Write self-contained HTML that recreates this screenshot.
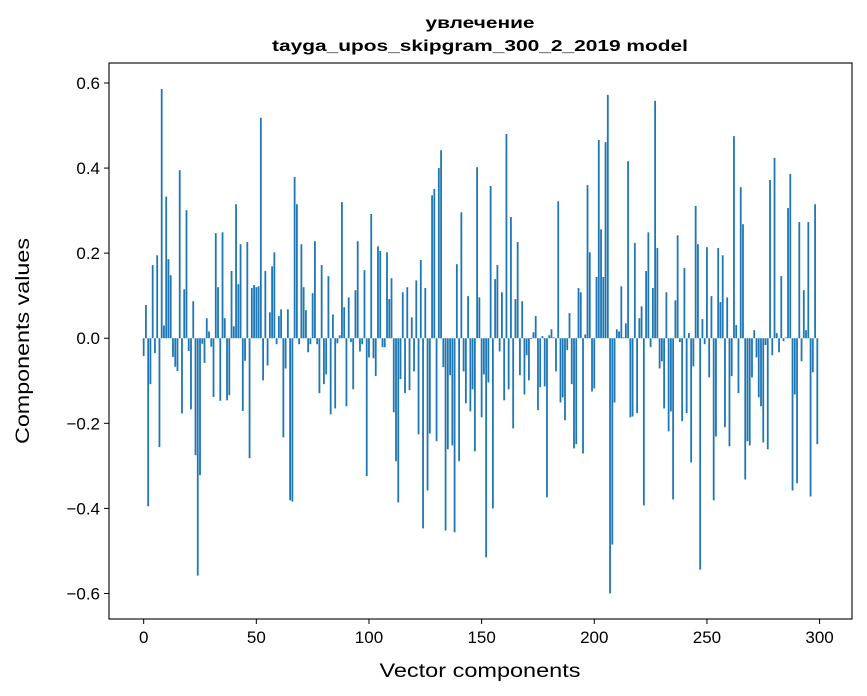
<!DOCTYPE html>
<html><head><meta charset="utf-8"><style>
body{margin:0;background:#fff;}
svg{display:block;font-family:"Liberation Sans","DejaVu Sans",sans-serif;}
</style></head><body>
<svg id="chart" width="867" height="696" viewBox="0 0 867 696" xmlns="http://www.w3.org/2000/svg">
<rect width="867" height="696" fill="#fff"/>
<text x="480" y="28" text-anchor="middle" font-size="16" font-weight="bold" textLength="109" lengthAdjust="spacingAndGlyphs">увлечение</text>
<text x="480" y="51" text-anchor="middle" font-size="16" font-weight="bold" textLength="416" lengthAdjust="spacingAndGlyphs">tayga_upos_skipgram_300_2_2019 model</text>
<g id="bars"></g>
<g id="axes"></g>
<rect x="109" y="63" width="743" height="556" fill="none" stroke="#000" stroke-width="1.1"/>
<text x="480" y="677" text-anchor="middle" font-size="19" textLength="201" lengthAdjust="spacingAndGlyphs">Vector components</text>
<text transform="translate(29,341) rotate(-90)" text-anchor="middle" font-size="19" textLength="206" lengthAdjust="spacingAndGlyphs">Components values</text>
</svg>
<script>
const values = [
-0.042,0.078,-0.395,-0.108,0.172,-0.035,0.195,-0.256,0.586,0.03,
0.333,0.186,0.148,-0.044,-0.067,-0.077,0.395,-0.177,0.115,0.301,
-0.03,-0.167,0.087,-0.275,-0.558,-0.322,-0.013,-0.058,0.047,0.016,
-0.02,-0.138,0.247,0.12,-0.147,0.249,0.047,-0.146,-0.134,0.158,
0.028,0.315,0.127,0.221,-0.171,-0.053,0.226,-0.282,0.118,0.125,
0.12,0.122,0.518,-0.099,0.158,-0.064,0.061,0.169,0.202,-0.014,
0.052,0.068,-0.233,-0.071,0.068,-0.381,-0.384,0.379,0.315,-0.014,
0.221,0.12,0.066,-0.033,-0.014,0.106,0.228,-0.014,-0.129,0.172,
-0.108,-0.085,0.146,-0.179,0.056,-0.165,-0.012,0.007,0.32,0.073,
-0.16,0.096,-0.009,-0.12,0.113,0.228,-0.031,-0.014,0.16,-0.324,
-0.045,0.292,-0.047,-0.089,0.216,0.205,-0.021,-0.021,0.202,0.092,
0.141,-0.174,-0.289,-0.386,-0.096,0.108,-0.129,0.12,-0.122,0.049,
-0.078,0.136,-0.226,0.184,-0.447,0.118,-0.358,-0.224,0.336,0.351,
-0.242,0.4,0.442,-0.068,-0.452,-0.261,-0.087,-0.252,-0.456,0.174,
-0.289,0.296,-0.078,-0.153,0.099,-0.172,-0.12,-0.266,0.402,0.096,
-0.186,-0.085,-0.515,-0.104,0.358,-0.4,0.139,0.172,-0.031,0.108,
-0.146,0.48,-0.12,0.285,-0.212,0.092,0.226,-0.087,0.087,-0.132,
-0.04,-0.099,-0.002,0.014,0.052,-0.169,-0.115,0.005,-0.113,-0.374,
0.007,0.021,0.002,-0.078,0.322,-0.151,-0.139,-0.193,-0.028,0.059,
-0.108,-0.259,-0.249,0.118,0.108,-0.271,0.009,0.36,0.202,-0.125,
-0.118,0.144,0.466,0.256,0.144,0.461,0.572,-0.6,-0.485,-0.151,
0.021,0.016,0.122,0.002,0.035,0.416,-0.186,-0.184,0.224,-0.176,
0.047,0.075,-0.393,0.158,0.249,-0.021,0.118,0.558,0.212,-0.071,
-0.054,-0.165,0.108,-0.219,-0.172,-0.379,0.089,0.242,-0.009,-0.195,
0.165,-0.176,0.012,-0.292,-0.066,0.311,0.221,-0.544,0.045,-0.014,
0.214,-0.092,0.099,-0.381,-0.231,0.212,0.085,0.195,-0.209,0.096,
-0.254,-0.089,0.475,0.031,-0.129,0.355,0.268,-0.332,-0.242,-0.252,
-0.092,0.019,-0.045,-0.139,-0.16,-0.245,-0.016,-0.261,0.372,-0.04,
0.424,0.012,-0.033,0.146,-0.007,0.002,0.306,0.386,-0.358,-0.132,
-0.341,0.273,-0.054,0.113,0.019,0.273,-0.372,-0.08,0.315,-0.249
];
const xTicks = [0,50,100,150,200,250,300];
const yTicks = [-0.6,-0.4,-0.2,0.0,0.2,0.4,0.6];
const yTickLabels = ["\u22120.6","\u22120.4","\u22120.2","0.0","0.2","0.4","0.6"];

const L=109,R=852,T=63,B=619;
const xMin=-15.39,xMax=314.39,yMin=-0.66,yMax=0.647;
function xs(v){return L+(v-xMin)/(xMax-xMin)*(R-L);}
function ys(v){return B-(v-yMin)/(yMax-yMin)*(B-T);}
const NS="http://www.w3.org/2000/svg";
const bars=document.getElementById('bars');
values.forEach((v,i)=>{
  const r=document.createElementNS(NS,'rect');
  const x0=xs(i-0.4),x1=xs(i+0.4);
  const y0=ys(Math.max(v,0)),y1=ys(Math.min(v,0));
  r.setAttribute('x',x0);r.setAttribute('width',x1-x0);
  r.setAttribute('y',y0);r.setAttribute('height',Math.max(y1-y0,0.3));
  r.setAttribute('fill','#1f77b4');
  
  
  bars.appendChild(r);
});
const ax=document.getElementById('axes');
xTicks.forEach(t=>{
  const x=xs(t);
  const l=document.createElementNS(NS,'line');
  l.setAttribute('x1',x);l.setAttribute('x2',x);l.setAttribute('y1',B);l.setAttribute('y2',B+5);
  l.setAttribute('stroke','#000');
  
  
  ax.appendChild(l);
  const tx=document.createElementNS(NS,'text');
  tx.setAttribute('x',x);tx.setAttribute('y',B+24);tx.setAttribute('text-anchor','middle');tx.setAttribute('font-size','17');
  tx.textContent=t;
  
  
  ax.appendChild(tx);
});
yTicks.forEach((t,i)=>{
  const y=ys(t);
  const l=document.createElementNS(NS,'line');
  l.setAttribute('x1',L-5);l.setAttribute('x2',L);l.setAttribute('y1',y);l.setAttribute('y2',y);
  l.setAttribute('stroke','#000');
  
  
  ax.appendChild(l);
  const tx=document.createElementNS(NS,'text');
  tx.setAttribute('x',L-9);tx.setAttribute('y',y+6);tx.setAttribute('text-anchor','end');tx.setAttribute('font-size','17');
  tx.textContent=yTickLabels[i];
  
  
  ax.appendChild(tx);
});
</script>
</body></html>
